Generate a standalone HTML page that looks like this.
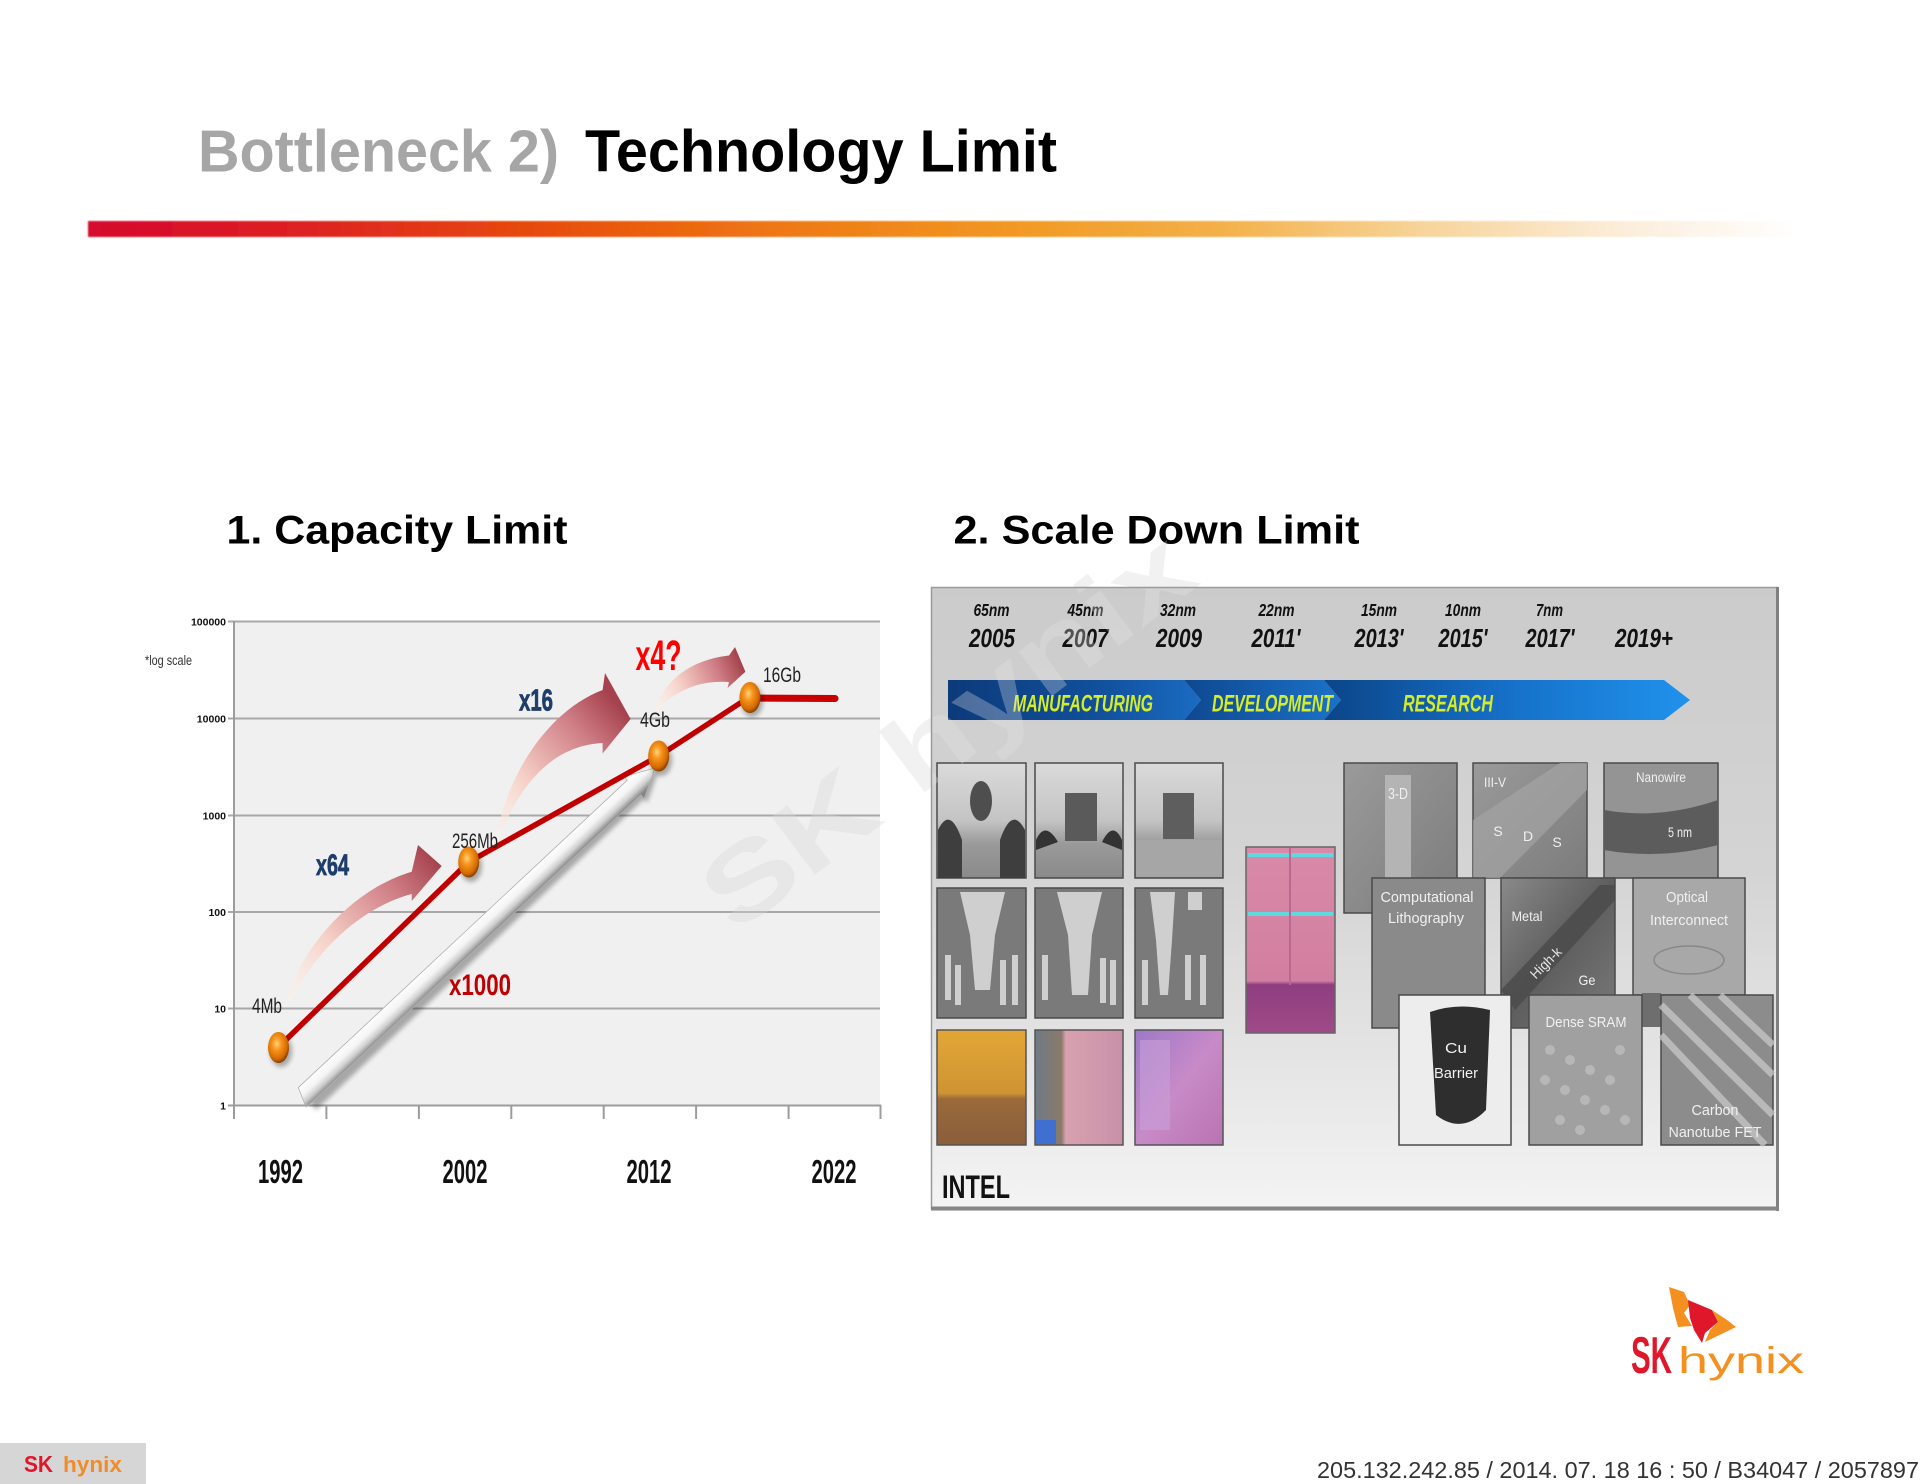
<!DOCTYPE html>
<html><head><meta charset="utf-8"><style>
html,body{margin:0;padding:0;background:#fff;}
svg{display:block;}
text{font-family:"Liberation Sans",Arial,sans-serif;}
</style></head><body>
<svg width="1920" height="1484" viewBox="0 0 1920 1484" xmlns="http://www.w3.org/2000/svg">
<defs>
 <linearGradient id="bar" x1="88" y1="0" x2="1800" y2="0" gradientUnits="userSpaceOnUse">
  <stop offset="0" stop-color="#d5072d"/>
  <stop offset="0.12" stop-color="#dc2022"/>
  <stop offset="0.25" stop-color="#e6470f"/>
  <stop offset="0.40" stop-color="#ee7712"/>
  <stop offset="0.55" stop-color="#f29a25"/>
  <stop offset="0.66" stop-color="#f3b048"/>
  <stop offset="0.78" stop-color="#f7d49a"/>
  <stop offset="0.90" stop-color="#fbeedb"/>
  <stop offset="1" stop-color="#ffffff"/>
 </linearGradient>
 <filter id="soft" x="-5%" y="-50%" width="110%" height="200%"><feGaussianBlur stdDeviation="0.8"/></filter>
 <filter id="sh" x="-50%" y="-50%" width="200%" height="200%"><feGaussianBlur stdDeviation="2.5"/></filter>
 <radialGradient id="ball" cx="0.42" cy="0.38" r="0.62">
  <stop offset="0" stop-color="#ffd47a"/>
  <stop offset="0.35" stop-color="#f7941d"/>
  <stop offset="0.8" stop-color="#d36a00"/>
  <stop offset="1" stop-color="#8a4200"/>
 </radialGradient>
 <linearGradient id="wa" x1="462.5" y1="932" x2="477.5" y2="948" gradientUnits="userSpaceOnUse">
  <stop offset="0" stop-color="#ffffff"/>
  <stop offset="0.45" stop-color="#f4f4f4"/>
  <stop offset="0.72" stop-color="#cfcfcf"/>
  <stop offset="1" stop-color="#858585"/>
 </linearGradient>
 <linearGradient id="pa1" x1="286" y1="1000" x2="442" y2="866" gradientUnits="userSpaceOnUse">
  <stop offset="0" stop-color="#fff3ec" stop-opacity="0.4"/>
  <stop offset="0.35" stop-color="#f6d0c6"/>
  <stop offset="0.75" stop-color="#cf7d85"/>
  <stop offset="1" stop-color="#a5424d"/>
 </linearGradient>
 <linearGradient id="pa2" x1="495" y1="841" x2="631" y2="719" gradientUnits="userSpaceOnUse">
  <stop offset="0" stop-color="#fff3ec" stop-opacity="0.4"/>
  <stop offset="0.35" stop-color="#f6d0c6"/>
  <stop offset="0.75" stop-color="#cf7d85"/>
  <stop offset="1" stop-color="#a5424d"/>
 </linearGradient>
 <linearGradient id="pa3" x1="654" y1="711" x2="745" y2="672" gradientUnits="userSpaceOnUse">
  <stop offset="0" stop-color="#fff3ec" stop-opacity="0.4"/>
  <stop offset="0.35" stop-color="#f6d0c6"/>
  <stop offset="0.75" stop-color="#cf7d85"/>
  <stop offset="1" stop-color="#a5424d"/>
 </linearGradient>
 <linearGradient id="picbg" x1="0" y1="0" x2="0" y2="1">
  <stop offset="0" stop-color="#cbcbcb"/>
  <stop offset="0.45" stop-color="#d4d4d4"/>
  <stop offset="0.75" stop-color="#e4e4e4"/>
  <stop offset="1" stop-color="#f4f4f4"/>
 </linearGradient>
 <linearGradient id="b1" x1="0" y1="0" x2="1" y2="0">
  <stop offset="0" stop-color="#0c3a7a"/>
  <stop offset="0.6" stop-color="#11509c"/>
  <stop offset="1" stop-color="#1a6cc2"/>
 </linearGradient>
 <linearGradient id="b2" x1="0" y1="0" x2="1" y2="0">
  <stop offset="0" stop-color="#0e4890"/>
  <stop offset="1" stop-color="#1b72c8"/>
 </linearGradient>
 <linearGradient id="b3" x1="0" y1="0" x2="1" y2="0">
  <stop offset="0" stop-color="#0b4588"/>
  <stop offset="0.5" stop-color="#1670c8"/>
  <stop offset="1" stop-color="#2092ec"/>
 </linearGradient>
 <linearGradient id="tem" x1="0" y1="0" x2="0" y2="1">
  <stop offset="0" stop-color="#dadada"/>
  <stop offset="0.5" stop-color="#c4c4c4"/>
  <stop offset="0.7" stop-color="#9a9a9a"/>
  <stop offset="1" stop-color="#8a8a8a"/>
 </linearGradient>
 <linearGradient id="chip1" x1="0" y1="0" x2="0" y2="1">
  <stop offset="0" stop-color="#e2a636"/>
  <stop offset="0.55" stop-color="#cf9434"/>
  <stop offset="0.6" stop-color="#9a6a3a"/>
  <stop offset="1" stop-color="#8a5e3c"/>
 </linearGradient>
 <linearGradient id="chip2" x1="0" y1="0" x2="1" y2="0">
  <stop offset="0" stop-color="#6f7a86"/>
  <stop offset="0.3" stop-color="#8a7a6a"/>
  <stop offset="0.35" stop-color="#d9a2b0"/>
  <stop offset="1" stop-color="#c890a8"/>
 </linearGradient>
 <linearGradient id="chip3" x1="0" y1="0" x2="1" y2="1">
  <stop offset="0" stop-color="#9c78c8"/>
  <stop offset="0.5" stop-color="#c88ac8"/>
  <stop offset="1" stop-color="#b874b0"/>
 </linearGradient>
 <linearGradient id="pinkc" x1="0" y1="0" x2="0" y2="1">
  <stop offset="0" stop-color="#d98aa8"/>
  <stop offset="0.72" stop-color="#d27ea0"/>
  <stop offset="0.74" stop-color="#8e3e80"/>
  <stop offset="1" stop-color="#a04a88"/>
 </linearGradient>
 <linearGradient id="gtile" x1="0" y1="0" x2="1" y2="1">
  <stop offset="0" stop-color="#9a9a9a"/>
  <stop offset="1" stop-color="#7c7c7c"/>
 </linearGradient>
 <linearGradient id="dtile" x1="0" y1="0" x2="1" y2="1">
  <stop offset="0" stop-color="#8a8a8a"/>
  <stop offset="0.5" stop-color="#5e5e5e"/>
  <stop offset="1" stop-color="#7a7a7a"/>
 </linearGradient>
 <clipPath id="picclip"><rect x="931" y="587" width="848" height="624"/></clipPath>
</defs>

<!-- Title -->
<text x="198" y="171.5" font-size="59" font-weight="bold" fill="#a6a6a6" textLength="361" lengthAdjust="spacingAndGlyphs">Bottleneck 2)</text>
<text x="585" y="171.5" font-size="59" font-weight="bold" fill="#000" textLength="472" lengthAdjust="spacingAndGlyphs">Technology Limit</text>

<!-- gradient bar -->
<rect x="88" y="221" width="1712" height="16" fill="url(#bar)" filter="url(#soft)"/>

<!-- section headings -->
<text x="226.5" y="543.5" font-size="40" font-weight="bold" fill="#000" textLength="341" lengthAdjust="spacingAndGlyphs">1. Capacity Limit</text>
<text x="953.5" y="543.5" font-size="40" font-weight="bold" fill="#000" textLength="406" lengthAdjust="spacingAndGlyphs">2. Scale Down Limit</text>

<!-- ===== Chart ===== -->
<rect x="234" y="621" width="646" height="485" fill="#f0f0f0"/>
<g stroke="#a8a8a8" stroke-width="2">
 <line x1="228" y1="621.5" x2="880" y2="621.5"/>
 <line x1="228" y1="718.5" x2="880" y2="718.5"/>
 <line x1="228" y1="815.5" x2="880" y2="815.5"/>
 <line x1="228" y1="912" x2="880" y2="912"/>
 <line x1="228" y1="1008.5" x2="880" y2="1008.5"/>
</g>
<g stroke="#9c9c9c" stroke-width="2">
 <line x1="228" y1="1105.5" x2="881" y2="1105.5"/>
 <line x1="234" y1="621" x2="234" y2="1119"/>
 <line x1="326.4" y1="1105" x2="326.4" y2="1119"/>
 <line x1="418.9" y1="1105" x2="418.9" y2="1119"/>
 <line x1="511.3" y1="1105" x2="511.3" y2="1119"/>
 <line x1="603.7" y1="1105" x2="603.7" y2="1119"/>
 <line x1="696.1" y1="1105" x2="696.1" y2="1119"/>
 <line x1="788.6" y1="1105" x2="788.6" y2="1119"/>
 <line x1="880.5" y1="1105" x2="880.5" y2="1119"/>
</g>
<g font-size="10.5" font-weight="bold" fill="#111" text-anchor="end">
 <text x="226" y="625.5">100000</text>
 <text x="226" y="722.5">10000</text>
 <text x="226" y="819.5">1000</text>
 <text x="226" y="916">100</text>
 <text x="226" y="1012.5">10</text>
 <text x="226" y="1109.5">1</text>
</g>
<text x="145" y="665" font-size="14" fill="#333" textLength="47" lengthAdjust="spacingAndGlyphs">*log scale</text>

<g font-size="33" font-weight="bold" fill="#111" text-anchor="middle">
 <text x="280.5" y="1183" textLength="45" lengthAdjust="spacingAndGlyphs">1992</text>
 <text x="465" y="1183" textLength="45" lengthAdjust="spacingAndGlyphs">2002</text>
 <text x="649" y="1183" textLength="45" lengthAdjust="spacingAndGlyphs">2012</text>
 <text x="834" y="1183" textLength="45" lengthAdjust="spacingAndGlyphs">2022</text>
</g>

<!-- watermark (under chart content) -->
<text x="0" y="0" transform="translate(735,935) rotate(-37)" font-size="105" font-weight="bold" fill="#d8d8d8" opacity="0.35" textLength="585" lengthAdjust="spacingAndGlyphs">SK hynix</text>

<!-- pink curved arrows -->
<path d="M286,1002 C300,950 350,890 411.7,871.7 L418,845 L441.7,866 L411.7,901 L411.7,894 C370,905 322,940 291,1000 Z" fill="url(#pa1)"/>
<path d="M495.4,841 C505,780 545,712 602.6,690 L605,673 L630.6,719 L602.6,753.5 L602.6,743 C560,745 522,775 499,840 Z" fill="url(#pa2)"/>
<path d="M653.6,710.6 C665,680 690,660 729,655.5 L735,647 L745.4,671.8 L727.5,688 L729,682 C700,680 676,690 656,711 Z" fill="url(#pa3)"/>

<!-- white big arrow -->
<path d="M302,1092 L627.2,780.3 L623.8,776.6 L655,768 L644.2,798.6 L640.8,794.9 L313,1106 Z" fill="#000" opacity="0.3" filter="url(#sh)" transform="translate(3,4)"/>
<path d="M298.3,1087.6 L627.2,780.3 L623.8,776.6 L655,768 L644.2,798.6 L640.8,794.9 L311.7,1102.4 L306,1107 Z" fill="url(#wa)" stroke="#b0b0b0" stroke-width="0.8"/>

<!-- red line -->
<polyline points="278.5,1047 468.7,862 658.7,756 749.5,697" fill="none" stroke="#c00000" stroke-width="5.5" stroke-linejoin="round" stroke-linecap="round"/>
<line x1="749.5" y1="698" x2="835" y2="698.5" stroke="#c80000" stroke-width="7" stroke-linecap="round"/>

<!-- balls -->
<g>
 <ellipse cx="281" cy="1051" rx="11" ry="16" fill="#000" opacity="0.3" filter="url(#sh)"/>
 <ellipse cx="278.5" cy="1047.5" rx="10.5" ry="15.5" fill="url(#ball)"/>
 <ellipse cx="471" cy="866" rx="11" ry="16" fill="#000" opacity="0.3" filter="url(#sh)"/>
 <ellipse cx="468.7" cy="862" rx="10.5" ry="15.5" fill="url(#ball)"/>
 <ellipse cx="661" cy="760" rx="11" ry="16" fill="#000" opacity="0.3" filter="url(#sh)"/>
 <ellipse cx="658.7" cy="756" rx="10.5" ry="15.5" fill="url(#ball)"/>
 <ellipse cx="752" cy="701" rx="11" ry="16" fill="#000" opacity="0.3" filter="url(#sh)"/>
 <ellipse cx="750" cy="697.5" rx="10.5" ry="15.5" fill="url(#ball)"/>
</g>

<!-- chart labels -->
<g font-size="21" fill="#222">
 <text x="252" y="1013" textLength="30" lengthAdjust="spacingAndGlyphs">4Mb</text>
 <text x="452" y="848" textLength="46" lengthAdjust="spacingAndGlyphs">256Mb</text>
 <text x="640" y="727" textLength="30" lengthAdjust="spacingAndGlyphs">4Gb</text>
 <text x="763" y="682" textLength="38" lengthAdjust="spacingAndGlyphs">16Gb</text>
</g>
<g font-weight="bold">
 <text x="316" y="875" font-size="30" fill="#1f3d6b" stroke="#1f3d6b" stroke-width="0.8" textLength="33" lengthAdjust="spacingAndGlyphs">x64</text>
 <text x="519" y="710.5" font-size="31" fill="#1f3d6b" stroke="#1f3d6b" stroke-width="0.8" textLength="34" lengthAdjust="spacingAndGlyphs">x16</text>
 <text x="635.5" y="670" font-size="43" fill="#ff0000" textLength="46" lengthAdjust="spacingAndGlyphs">x4?</text>
 <text x="449" y="995" font-size="30" fill="#c00000" textLength="62" lengthAdjust="spacingAndGlyphs">x1000</text>
</g>

<!-- ===== Intel picture ===== -->
<g clip-path="url(#picclip)">
 <rect x="931" y="587" width="848" height="624" fill="url(#picbg)"/>
 <g font-weight="bold" font-style="italic" fill="#111" text-anchor="middle">
  <g font-size="17.5">
   <text x="991.5" y="616" textLength="36" lengthAdjust="spacingAndGlyphs">65nm</text>
   <text x="1085.5" y="616" textLength="36" lengthAdjust="spacingAndGlyphs">45nm</text>
   <text x="1178" y="616" textLength="36" lengthAdjust="spacingAndGlyphs">32nm</text>
   <text x="1276.5" y="616" textLength="36" lengthAdjust="spacingAndGlyphs">22nm</text>
   <text x="1379" y="616" textLength="36" lengthAdjust="spacingAndGlyphs">15nm</text>
   <text x="1463" y="616" textLength="36" lengthAdjust="spacingAndGlyphs">10nm</text>
   <text x="1549.5" y="616" textLength="27" lengthAdjust="spacingAndGlyphs">7nm</text>
  </g>
  <g font-size="26">
   <text x="992" y="647" textLength="46" lengthAdjust="spacingAndGlyphs">2005</text>
   <text x="1085.5" y="647" textLength="46" lengthAdjust="spacingAndGlyphs">2007</text>
   <text x="1179" y="647" textLength="46" lengthAdjust="spacingAndGlyphs">2009</text>
   <text x="1276" y="647" textLength="49" lengthAdjust="spacingAndGlyphs">2011'</text>
   <text x="1379" y="647" textLength="49" lengthAdjust="spacingAndGlyphs">2013'</text>
   <text x="1463" y="647" textLength="49" lengthAdjust="spacingAndGlyphs">2015'</text>
   <text x="1550" y="647" textLength="49" lengthAdjust="spacingAndGlyphs">2017'</text>
   <text x="1644" y="647" textLength="58" lengthAdjust="spacingAndGlyphs">2019+</text>
  </g>
 </g>
 <path d="M948,680 L1184,680 L1201,700 L1184,720 L948,720 Z" fill="url(#b1)"/>
 <path d="M1184,680 L1324,680 L1341,700 L1324,720 L1184,720 L1201,700 Z" fill="url(#b2)"/>
 <path d="M1324,680 L1664,680 L1690,700 L1664,720 L1324,720 L1341,700 Z" fill="url(#b3)"/>
 <g font-weight="bold" font-style="italic" font-size="24" fill="#d4ec2a">
  <text x="1013" y="711.5" textLength="140" lengthAdjust="spacingAndGlyphs">MANUFACTURING</text>
  <text x="1212" y="711.5" textLength="121" lengthAdjust="spacingAndGlyphs">DEVELOPMENT</text>
  <text x="1403" y="711.5" textLength="90" lengthAdjust="spacingAndGlyphs">RESEARCH</text>
 </g>

 <g stroke="#4a4a4a" stroke-width="1.5">
  <rect x="937" y="763" width="89" height="115" fill="url(#tem)"/>
  <rect x="1035" y="763" width="88" height="115" fill="url(#tem)"/>
  <rect x="1135" y="763" width="88" height="115" fill="url(#tem)"/>
 </g>
 <ellipse cx="981" cy="801" rx="11" ry="20" fill="#4e4e4e"/>
 <path d="M938,830 Q950,805 962,840 L962,878 L938,878 Z" fill="#3e3e3e"/>
 <path d="M1025,830 Q1012,805 1000,840 L1000,878 L1025,878 Z" fill="#3e3e3e"/>
 <rect x="1065" y="793" width="32" height="48" fill="#5a5a5a"/>
 <path d="M1036,840 Q1045,820 1058,842 L1036,850 Z" fill="#333"/>
 <path d="M1122,840 Q1113,820 1102,842 L1122,850 Z" fill="#333"/>
 <rect x="1163" y="793" width="31" height="46" fill="#5e5e5e"/>
 <rect x="1136" y="840" width="86" height="37" fill="#a6a6a6"/>

 <g stroke="#4a4a4a" stroke-width="1.5" fill="#7a7a7a">
  <rect x="937" y="888" width="89" height="130"/>
  <rect x="1035" y="888" width="88" height="130"/>
  <rect x="1135" y="888" width="88" height="130"/>
 </g>
 <g fill="#cfcfcf">
  <path d="M960,892 L1005,892 L995,935 L990,990 L975,990 L970,935 Z"/>
  <rect x="945" y="955" width="6" height="45"/><rect x="955" y="965" width="6" height="40"/>
  <rect x="1000" y="960" width="6" height="45"/><rect x="1012" y="955" width="6" height="50"/>
  <path d="M1057,892 L1102,892 L1092,935 L1088,995 L1072,995 L1068,935 Z"/>
  <rect x="1042" y="955" width="6" height="45"/><rect x="1100" y="958" width="6" height="45"/><rect x="1110" y="960" width="6" height="45"/>
  <path d="M1150,892 L1175,892 L1172,940 L1168,995 L1160,995 L1156,940 Z"/>
  <rect x="1188" y="892" width="14" height="18"/>
  <rect x="1142" y="960" width="6" height="45"/><rect x="1185" y="955" width="6" height="45"/><rect x="1200" y="955" width="6" height="50"/>
 </g>

 <g stroke="#555" stroke-width="1.5">
  <rect x="937" y="1030" width="89" height="115" fill="url(#chip1)"/>
  <rect x="1035" y="1030" width="88" height="115" fill="url(#chip2)"/>
  <rect x="1135" y="1030" width="88" height="115" fill="url(#chip3)"/>
 </g>
 <rect x="1036" y="1120" width="20" height="24" fill="#3f6fd0"/>
 <rect x="1140" y="1040" width="30" height="90" fill="#c8a0d8" opacity="0.6"/>

 <rect x="1246" y="847" width="89" height="186" fill="url(#pinkc)" stroke="#666" stroke-width="1.5"/>
 <rect x="1248" y="853" width="85" height="4" fill="#5fd8e0"/>
 <rect x="1248" y="912" width="85" height="4" fill="#5fd8e0"/>
 <line x1="1290" y1="848" x2="1290" y2="985" stroke="#b86a90" stroke-width="2"/>

 <g stroke="#4a4a4a" stroke-width="1.5">
  <rect x="1344" y="763" width="113" height="150" fill="url(#gtile)"/>
  <rect x="1473" y="763" width="114" height="115" fill="url(#gtile)"/>
  <rect x="1604" y="763" width="114" height="115" fill="#949494"/>
 </g>
 <rect x="1385" y="775" width="26" height="110" fill="#b4b4b4"/>
 <path d="M1473,820 L1560,763 L1587,763 L1587,790 L1500,878 L1473,878 Z" fill="#a4a4a4" opacity="0.7"/>
 <path d="M1604,810 Q1660,820 1718,800 L1718,845 Q1660,860 1604,850 Z" fill="#5c5c5c"/>
 <g stroke="#4a4a4a" stroke-width="1.5">
  <rect x="1372" y="878" width="113" height="150" fill="#8a8a8a"/>
  <rect x="1501" y="878" width="114" height="150" fill="url(#dtile)"/>
  <rect x="1633" y="878" width="112" height="117" fill="#a8a8a8"/>
 </g>
 <path d="M1501,990 L1600,885 L1615,885 L1615,900 L1515,1010 Z" fill="#4a4a4a" opacity="0.8"/>
 <ellipse cx="1689" cy="960" rx="35" ry="14" fill="none" stroke="#888" stroke-width="1.5"/>
 <rect x="1642" y="993" width="19" height="34" fill="#6e6e6e"/>
 <g stroke="#4a4a4a" stroke-width="1.5">
  <rect x="1399" y="995" width="112" height="150" fill="#ededed"/>
  <rect x="1529" y="995" width="113" height="150" fill="#a0a0a0"/>
  <rect x="1661" y="995" width="112" height="150" fill="#8c8c8c"/>
 </g>
 <path d="M1430,1012 Q1458,1002 1490,1010 L1486,1110 Q1462,1135 1436,1115 Z" fill="#2e2e2e"/>
 <g stroke="#c8c8c8" stroke-width="7" opacity="0.75">
  <line x1="1661" y1="1005" x2="1773" y2="1115"/>
  <line x1="1661" y1="1035" x2="1765" y2="1145"/>
  <line x1="1690" y1="995" x2="1773" y2="1075"/>
  <line x1="1720" y1="995" x2="1773" y2="1045"/>
 </g>
 <g fill="#cfcfcf" opacity="0.5">
  <circle cx="1550" cy="1050" r="5"/><circle cx="1570" cy="1060" r="5"/><circle cx="1590" cy="1070" r="5"/><circle cx="1610" cy="1080" r="5"/>
  <circle cx="1545" cy="1080" r="5"/><circle cx="1565" cy="1090" r="5"/><circle cx="1585" cy="1100" r="5"/><circle cx="1605" cy="1110" r="5"/>
  <circle cx="1560" cy="1120" r="5"/><circle cx="1580" cy="1130" r="5"/><circle cx="1620" cy="1050" r="5"/><circle cx="1625" cy="1120" r="5"/>
 </g>
 <g fill="#f0f0f0" font-size="14" text-anchor="middle">
  <text x="1398" y="799" font-size="16" textLength="20" lengthAdjust="spacingAndGlyphs">3-D</text>
  <text x="1495" y="787" textLength="22" lengthAdjust="spacingAndGlyphs">III-V</text>
  <text x="1498" y="836">S</text><text x="1528" y="841">D</text><text x="1557" y="847">S</text>
  <text x="1661" y="782" textLength="50" lengthAdjust="spacingAndGlyphs">Nanowire</text>
  <text x="1680" y="837" textLength="24" lengthAdjust="spacingAndGlyphs">5 nm</text>
  <text x="1427" y="902" font-size="15" textLength="93" lengthAdjust="spacingAndGlyphs">Computational</text>
  <text x="1426" y="923" font-size="15" textLength="76" lengthAdjust="spacingAndGlyphs">Lithography</text>
  <text x="1527" y="921" textLength="31" lengthAdjust="spacingAndGlyphs">Metal</text>
  <text x="1587" y="985" textLength="17" lengthAdjust="spacingAndGlyphs">Ge</text>
  <text x="1687" y="902" font-size="15" textLength="42" lengthAdjust="spacingAndGlyphs">Optical</text>
  <text x="1689" y="925" font-size="15" textLength="78" lengthAdjust="spacingAndGlyphs">Interconnect</text>
  <text x="1456" y="1053" font-size="15" textLength="22" lengthAdjust="spacingAndGlyphs">Cu</text>
  <text x="1456" y="1078" font-size="15" textLength="44" lengthAdjust="spacingAndGlyphs">Barrier</text>
  <text x="1586" y="1027" font-size="15" textLength="81" lengthAdjust="spacingAndGlyphs">Dense SRAM</text>
  <text x="1715" y="1115" font-size="15" textLength="47" lengthAdjust="spacingAndGlyphs">Carbon</text>
  <text x="1715" y="1137" font-size="15" textLength="93" lengthAdjust="spacingAndGlyphs">Nanotube FET</text>
 </g>
 <text x="1545" y="968" fill="#e8e8e8" font-size="14" text-anchor="middle" transform="rotate(-45 1545 962)" textLength="38" lengthAdjust="spacingAndGlyphs">High-k</text>

 <text x="942" y="1198" font-size="32" font-weight="bold" fill="#111" textLength="68" lengthAdjust="spacingAndGlyphs">INTEL</text>
 <!-- watermark over picture (faint) -->
 <text x="0" y="0" transform="translate(735,935) rotate(-37)" font-size="105" font-weight="bold" fill="#e6e6e6" opacity="0.3" textLength="585" lengthAdjust="spacingAndGlyphs">SK hynix</text>
</g>
<rect x="931.5" y="587.5" width="846" height="621" fill="none" stroke="#9a9a9a" stroke-width="1.5"/>
<line x1="1777.5" y1="587" x2="1777.5" y2="1211" stroke="#808080" stroke-width="3"/>
<line x1="931" y1="1208.5" x2="1779" y2="1208.5" stroke="#858585" stroke-width="4"/>

<!-- SK hynix logo bottom right -->
<path d="M1669,1287 L1684,1292 L1690,1305 L1684,1313 L1692,1326 L1678,1327 L1673,1308 Z" fill="#f39020"/>
<path d="M1688,1300 L1712,1310 L1718,1322 L1705,1333 L1702,1343 L1694,1330 L1690,1318 Z" fill="#e0162b"/>
<path d="M1712,1310 L1727,1320 L1736,1327 L1705,1342 L1710,1330 L1718,1322 Z" fill="#f39020"/>
<text x="1631" y="1373" font-size="52" font-weight="bold" fill="#e0162b" textLength="41" lengthAdjust="spacingAndGlyphs">SK</text>
<text x="1678" y="1373" font-size="37" fill="#f39020" textLength="126" lengthAdjust="spacingAndGlyphs">hynix</text>

<!-- footer -->
<rect x="0" y="1443" width="146" height="41" fill="#d6d6d6"/>
<text x="24" y="1472" font-size="23" font-weight="bold" fill="#e0162b" textLength="29" lengthAdjust="spacingAndGlyphs">SK</text>
<text x="63" y="1472" font-size="22" font-weight="bold" fill="#f08c2a" textLength="59" lengthAdjust="spacingAndGlyphs">hynix</text>
<text x="1317" y="1478" font-size="23" fill="#333" textLength="602" lengthAdjust="spacingAndGlyphs">205.132.242.85 / 2014. 07. 18  16 : 50 / B34047 / 2057897</text>
</svg>
</body></html>
